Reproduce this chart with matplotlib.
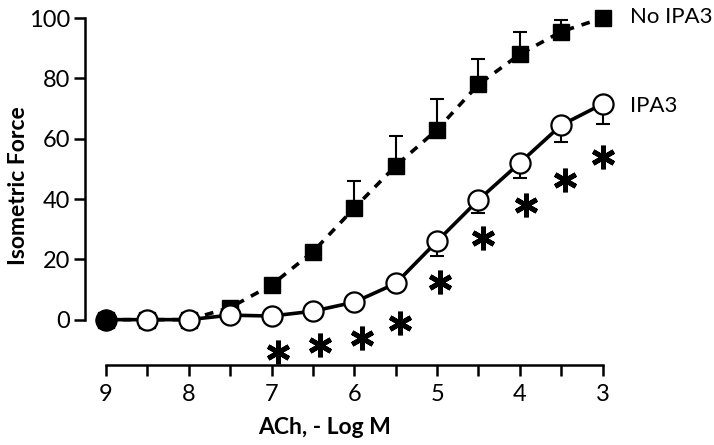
import matplotlib
matplotlib.use("Agg")
import matplotlib.pyplot as plt

# concentrations (-log M)
conc = [9, 8.5, 8, 7.5, 7, 6.5, 6, 5.5, 5, 4.5, 4, 3.5, 3]

# No IPA3 (squares) with upward SEM
no_ipa3 = [0, 0, 0, 4, 11.5, 22.5, 37, 51, 63, 78, 88, 95.5, 100]
no_ipa3_err = [0, 0, 0, 0, 0, 0, 9, 10, 10, 8.5, 7.5, 4, 0]

# IPA3 (open circles) with downward SEM
ipa3 = [0, 0, 0, 1.5, 1.2, 2.8, 5.8, 12, 26, 39.7, 52, 64.5, 71.5]
ipa3_err = [0, 0, 0, 0, 0, 0, 2, 0, 5, 4.5, 5, 5.5, 6.5]

# significance markers
star_x = [6.92, 6.42, 5.91, 5.45, 4.97, 4.44, 3.92, 3.45, 3.0]
star_y = [-10.6, -8.3, -6, -1, 12.6, 27, 38, 46.4, 54]

plt.rcParams['font.family'] = ['Lato', 'DejaVu Sans']

fig = plt.figure(figsize=(7.14, 4.45), dpi=100)
ax = fig.add_axes([0.1195, 0.18, 0.7535, 0.793])

ax.errorbar(conc, no_ipa3, yerr=[[0] * len(conc), no_ipa3_err], fmt='none',
            ecolor='black', elinewidth=1.5, capsize=5, capthick=1.5, zorder=2)
ax.errorbar(conc, ipa3, yerr=[ipa3_err, [0] * len(conc)], fmt='none',
            ecolor='black', elinewidth=1.5, capsize=5, capthick=1.5, zorder=2)

ax.plot(conc, no_ipa3, linestyle=(0, (2.4, 2.2)), color='black', lw=2.6,
        marker='s', markersize=11, markerfacecolor='black', zorder=3, clip_on=False)
ax.plot(conc, ipa3, linestyle='-', color='black', lw=2.6,
        marker='o', markersize=14.5, markerfacecolor='white', markeredgecolor='black',
        markeredgewidth=1.6, zorder=4, clip_on=False)
ax.plot(conc[:1], ipa3[:1], linestyle='none', marker='o', markersize=14.5,
        color='black', zorder=5, clip_on=False)

ax.plot(star_x, star_y, linestyle='none', marker=(6, 2, 0), markersize=17,
        markeredgewidth=3.5, color='black', zorder=5, clip_on=False)

ax.text(2.67, 100.5, 'No IPA3', fontsize=16, va='center', ha='left')
ax.text(2.67, 71, 'IPA3', fontsize=16, va='center', ha='left')

ax.set_xlim(9.25, 2.75)
ax.set_ylim(-15, 102)
ax.spines['top'].set_visible(False)
ax.spines['right'].set_visible(False)
ax.spines['left'].set_bounds(0, 100)
ax.spines['bottom'].set_bounds(9, 3)
for s in ('left', 'bottom'):
    ax.spines[s].set_linewidth(1.8)

ax.set_xticks([9, 8.5, 8, 7.5, 7, 6.5, 6, 5.5, 5, 4.5, 4, 3.5, 3])
ax.set_xticklabels(['9', '', '8', '', '7', '', '6', '', '5', '', '4', '', '3'])
ax.set_yticks([0, 20, 40, 60, 80, 100])
ax.tick_params(axis='both', width=1.8, length=8, labelsize=17, pad=3)
ax.tick_params(axis='x', pad=6)

ax.set_xlabel('ACh, - Log M', fontsize=16.5, fontweight='bold')
ax.set_ylabel('Isometric Force', fontsize=16.5, fontweight='bold')
# label positions in axes fraction
ax.xaxis.set_label_coords((325 - 85.3) / 538, (365 - 428) / 353)
ax.yaxis.set_label_coords((18 - 85.3) / 538, (365 - 186) / 353)
ax.xaxis.label.set_va('center')
ax.yaxis.label.set_va('center')

fig.savefig('out.png', dpi=100)
